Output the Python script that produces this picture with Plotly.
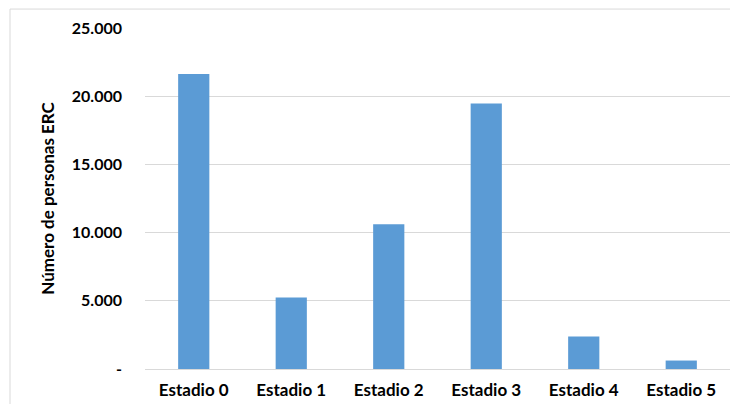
import plotly.graph_objects as go

categories = ["Estadio 0", "Estadio 1", "Estadio 2", "Estadio 3", "Estadio 4", "Estadio 5"]
values = [21620, 5250, 10610, 19460, 2375, 620]
tick_vals = [0, 5000, 10000, 15000, 20000, 25000]
tick_text = ["-", "5.000", "10.000", "15.000", "20.000", "25.000"]

# page body has an 8px margin, so the figure is sized to fit the remaining area
W, H = 730, 396
ML, MR, MT, MB = 137, 8, 19.5, 34.5
pw = W - ML - MR
ph = H - MT - MB

fig = go.Figure(go.Bar(x=categories, y=values, marker=dict(color="#5B9BD5", line=dict(width=0))))

font_family = "Lato, 'Open Sans', sans-serif"
fig.update_layout(
    width=W, height=H,
    margin=dict(l=ML, r=MR, t=MT, b=MB, autoexpand=False),
    plot_bgcolor="white", paper_bgcolor="white",
    bargap=0.68,
    showlegend=False,
    font=dict(family=font_family, color="#000000"),
    xaxis=dict(
        automargin=False,
        showgrid=False, showline=True, linecolor="#D9D9D9", linewidth=1,
        ticks="", tickfont=dict(size=17, family=font_family, weight="bold"),
        ticklabelstandoff=6,
    ),
    yaxis=dict(
        automargin=False,
        range=[0, 25000], tickvals=tick_vals, ticktext=tick_text,
        showgrid=True, gridcolor="#D9D9D9", gridwidth=1,
        zeroline=False, showline=False, ticks="",
        tickfont=dict(size=16, family=font_family, weight="bold"),
        ticklabelstandoff=22,
        title=dict(text="Número de personas ERC", font=dict(size=17, family=font_family, weight="bold"), standoff=12),
    ),
)

# outer chart-area border (left and top edges visible)
fig.add_shape(type="rect", xref="paper", yref="paper",
              x0=(2 - ML) / pw, x1=(W + 20 - ML) / pw,
              y0=-(H + 20 - MT - ph) / ph, y1=(H - MB - 0.5) / ph,
              line=dict(color="#D9D9D9", width=1), fillcolor="rgba(0,0,0,0)", layer="below")

fig.write_html("out.html")
